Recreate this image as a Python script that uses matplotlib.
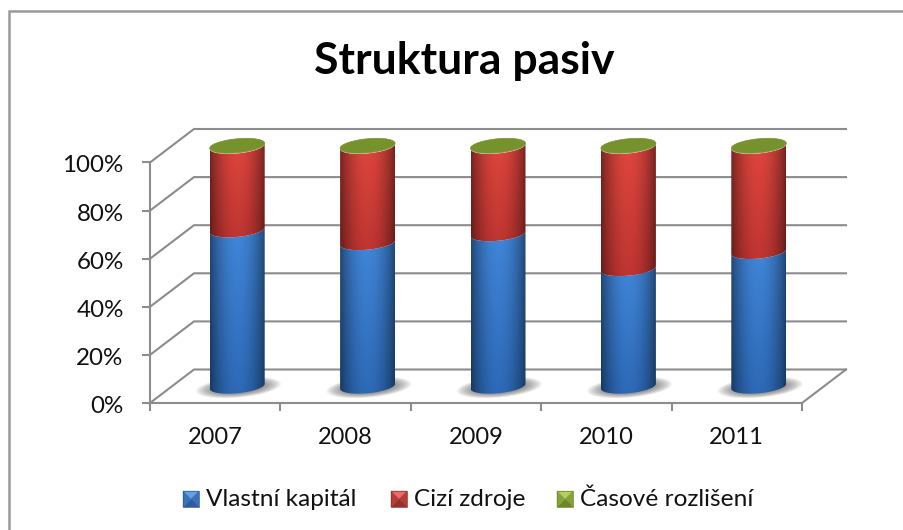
import numpy as np
import matplotlib
matplotlib.use("Agg")
import matplotlib.pyplot as plt
from matplotlib.patches import Polygon, Rectangle
from matplotlib.colors import to_rgb
from matplotlib.transforms import ScaledTranslation

plt.rcParams["font.family"] = ["Lato", "DejaVu Sans"]

# ── Data ───────────────────────────────────────────────────
years = ["2007", "2008", "2009", "2010", "2011"]
vlastni_kapital = [65.0, 59.7, 63.4, 48.9, 56.0]
cizi_zdroje = [34.7, 40.0, 36.3, 50.8, 43.7]
casove_rozliseni = [0.3, 0.3, 0.3, 0.3, 0.3]
y_ticks = [0, 20, 40, 60, 80, 100]
legend_labels = ["Vlastní kapitál", "Cizí zdroje", "Časové rozlišení"]

W, H = 904, 530
GRID = "#8c8c8c"

# axes box is the front face of the 3d frame, in pixels
X0, X1, Y_TOP, Y_BOT = 150, 802, 162.5, 403
DX = 44 / ((X1 - X0) / 5)        # depth in category units
DY = 33.5 / (Y_BOT - Y_TOP) * 100  # depth in percent units
BAR_HALF = 27.5 / ((X1 - X0) / 5)
ELL_B = 7 / (Y_BOT - Y_TOP) * 100
ELL_TILT = 2.5 / (Y_BOT - Y_TOP) * 100


# ── Helpers ────────────────────────────────────────────────
def ell_pts(cx, cy, t, scale_x=1.0, scale_y=1.0):
    return (cx + BAR_HALF * scale_x * np.cos(t),
            cy + ELL_B * scale_y * np.sin(t) + ELL_TILT * scale_y * np.cos(t))


def draw_segment(ax, fig, cx, y0, y1, c_top, c_bot, z):
    # cylinder side: front half of lower rim plus front half of upper rim
    t = np.linspace(np.pi, 2 * np.pi, 60)
    xb, yb = ell_pts(cx, y0, t)
    xt, yt = ell_pts(cx, y1, t)
    verts = np.r_[np.c_[xb, yb], np.c_[xt, yt][::-1]]
    poly = Polygon(verts, closed=True, fc="none", ec="none")
    ax.add_patch(poly)

    # shading: round across the width, lighter towards the top
    u = np.linspace(0, 1, 120)
    across = 0.52 + 0.48 * np.sin(np.pi * u) ** 0.8
    v = np.linspace(0, 1, 100)[:, None, None]
    col = np.array(to_rgb(c_bot))[None, None, :] * (1 - v) + np.array(to_rgb(c_top))[None, None, :] * v
    rgb = col * across[None, :, None]
    im = ax.imshow(rgb, extent=(cx - BAR_HALF, cx + BAR_HALF, y0 - 2 * ELL_B, y1 + 2 * ELL_B),
                   aspect="auto", zorder=z, origin="lower", interpolation="bilinear")
    im.set_clip_path(poly)
    im.set_clip_box(fig.bbox)


def bevel(fig_ax, x, y, s, top, side, bottom):
    c = (x + s / 2, y + s / 2)
    a, b, d, e = (x, y), (x + s, y), (x + s, y + s), (x, y + s)
    for p, q, col in [(a, b, top), (b, d, side), (d, e, bottom), (e, a, side)]:
        fig_ax.add_patch(Polygon([p, q, c], closed=True, fc=col, ec=col, lw=0.3))
    fig_ax.add_patch(Rectangle((x, y), s, s, fc="none", ec=bottom, lw=0.5))


# ── Figure ─────────────────────────────────────────────────
fig = plt.figure(figsize=(W / 100, H / 100), dpi=100, facecolor="white")

# overlay in pixel coordinates for border and legend
bg = fig.add_axes([0, 0, 1, 1])
bg.set_xlim(0, W)
bg.set_ylim(H, 0)
bg.axis("off")
bg.plot([9.5, 9.5, W], [H, 10.5, 10.5], color="#9a9a9a", lw=1.8, solid_joinstyle="miter")

ax = fig.add_axes([X0 / W, 1 - Y_BOT / H, (X1 - X0) / W, (Y_BOT - Y_TOP) / H])
ax.patch.set_alpha(0)
for s in ["top", "right"]:
    ax.spines[s].set_visible(False)
for s in ["left", "bottom"]:
    ax.spines[s].set_color(GRID)
    ax.spines[s].set_linewidth(1.5)

ax.set_yticks(y_ticks)
ax.set_yticklabels([f"{v}%" for v in y_ticks], fontsize=17.4, color="#111111")
ax.set_xticks(np.arange(-0.5, 5, 1))
ax.set_xticklabels([])
ax.tick_params(axis="both", length=6, width=1.5, color=GRID)
ax.tick_params(axis="y", pad=13)
# tick labels sit slightly below their ticks in the reference
shift = ScaledTranslation(0, -1.5 / 100, fig.dpi_scale_trans)
for lab in ax.get_yticklabels():
    lab.set_transform(lab.get_transform() + shift)
for i, y in enumerate(years):
    ax.text(i, -14.5, y, ha="center", va="center", fontsize=17, color="#111111", clip_on=False)

# back wall and left wall grid
left, right = -0.5, 4.5
for v in y_ticks:
    ax.plot([left, left + DX, right + DX], [v, v + DY, v + DY], color=GRID, lw=1.5,
            clip_on=False, zorder=1, solid_joinstyle="miter")
ax.plot([right, right + DX], [0, DY], color=GRID, lw=1.5, clip_on=False, zorder=1)

# bars
for i in range(len(years)):
    cx = i + DX / 2
    base = DY / 2
    b_top = base + vlastni_kapital[i]
    r_top = b_top + cizi_zdroje[i]
    g_top = r_top + casove_rozliseni[i]

    # soft floor shadow
    t = np.linspace(0, 2 * np.pi, 90)
    for k in range(16):
        f = 1.0 - 0.03 * k
        xs, ys = ell_pts(cx + 0.01, base - 0.5, t, scale_x=1.55 * f, scale_y=1.45 * f)
        ax.add_patch(Polygon(np.c_[xs, ys], closed=True, fc="#555555", ec="none", alpha=0.06,
                             zorder=2, clip_on=False))

    draw_segment(ax, fig, cx, base, b_top, "#4288dc", "#2c68b4", 3)
    draw_segment(ax, fig, cx, b_top, r_top, "#e2473f", "#bc3430", 4)

    xe, ye = ell_pts(cx, g_top, t)
    ax.add_patch(Polygon(np.c_[xe, ye], closed=True, fc="#76922d", ec="#76922d", lw=0.5,
                         zorder=5, clip_on=False))
ax.set_xlim(-0.5, 4.5)
ax.set_ylim(0, 100)

# title
bg.text(464, 61, "Struktura pasiv", ha="center", va="center", fontsize=32, fontweight="bold", color="#000000")

# legend
items = [(183, 206, legend_labels[0], "#5fa0e6", "#3a72b8", "#2c5c9c"),
         (391, 414, legend_labels[1], "#ea6c68", "#b53c38", "#93302c"),
         (557, 580, legend_labels[2], "#b4cf5a", "#86a33b", "#6c8728")]
for xs, xt, lab, top, side, bottom in items:
    bevel(bg, xs, 491, 16, top, side, bottom)
    bg.text(xt, 499, lab, ha="left", va="center", fontsize=17.6, color="#111111")

fig.savefig("out.png", dpi=100, facecolor="white")
